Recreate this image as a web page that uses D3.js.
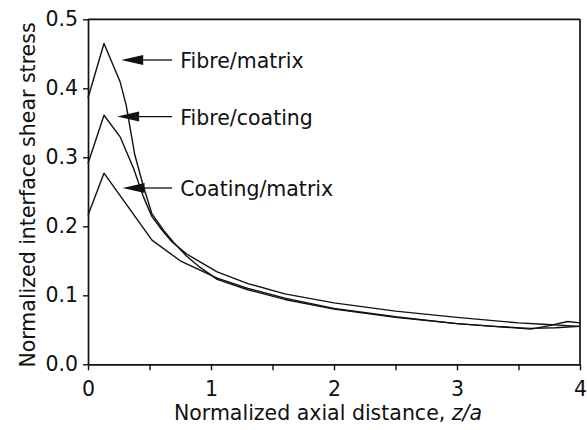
<!DOCTYPE html>
<html>
<head>
<meta charset="utf-8">
<script src="https://cdn.jsdelivr.net/npm/d3@7"></script>
<style>
  html, body { margin: 0; padding: 0; background: #fff; }
  svg { display: block; font-family: "DejaVu Sans", sans-serif; }
</style>
</head>
<body>
<svg id="chart" width="587" height="430"></svg>
<script>
// Normalized interface shear stress along the fibre, three interfaces
const seriesNames = ["Fibre/matrix", "Fibre/coating", "Coating/matrix"];

const zFibreMatrix = [0, 0.13, 0.26, 0.31, 0.38, 0.45, 0.52, 0.62, 0.70, 0.80, 0.90, 1.05, 1.3, 1.6, 2.0, 2.5, 3.0, 3.3, 3.6, 3.8, 3.9, 4.0];
const vFibreMatrix = [0.386, 0.465, 0.410, 0.376, 0.304, 0.258, 0.218, 0.193, 0.176, 0.157, 0.142, 0.123, 0.108, 0.094, 0.080, 0.068, 0.059, 0.055, 0.052, 0.053, 0.054, 0.055];

const zFibreCoating = [0, 0.13, 0.26, 0.37, 0.45, 0.52, 0.60, 0.68, 0.80, 1.05, 1.3, 1.6, 2.0, 2.5, 3.0, 3.5, 3.7, 3.9, 4.0];
const vFibreCoating = [0.291, 0.361, 0.330, 0.284, 0.243, 0.214, 0.195, 0.178, 0.160, 0.134, 0.117, 0.102, 0.089, 0.077, 0.068, 0.060, 0.058, 0.056, 0.055];

const zCoatingMatrix = [0, 0.13, 0.52, 0.75, 1.05, 1.3, 1.6, 2.0, 2.5, 3.0, 3.3, 3.6, 3.75, 3.9, 4.0];
const vCoatingMatrix = [0.216, 0.277, 0.180, 0.150, 0.125, 0.110, 0.096, 0.081, 0.069, 0.059, 0.055, 0.051, 0.056, 0.062, 0.060];

const xTickValues = [0, 0.5, 1, 1.5, 2, 2.5, 3, 3.5, 4];
const xTickLabels = ["0", "", "1", "", "2", "", "3", "", "4"];
const yTickValues = [0, 0.1, 0.2, 0.3, 0.4, 0.5];
const yTickLabels = ["0.0", "0.1", "0.2", "0.3", "0.4", "0.5"];

const series = [
  { name: seriesNames[0], z: zFibreMatrix, v: vFibreMatrix },
  { name: seriesNames[1], z: zFibreCoating, v: vFibreCoating },
  { name: seriesNames[2], z: zCoatingMatrix, v: vCoatingMatrix }
];

const svg = d3.select("#chart");
const FONT = "20.5px";

const x = d3.scaleLinear().domain([0, 4]).range([88, 580]);
const y = d3.scaleLinear().domain([0, 0.5]).range([364.3, 19.3]);

// curves
const line = d3.line()
  .x(d => x(d[0]))
  .y(d => y(d[1]))
  .curve(d3.curveLinear);

svg.append("g")
  .selectAll("path")
  .data(series)
  .join("path")
  .attr("d", s => line(s.z.map((z, i) => [z, s.v[i]])))
  .attr("fill", "none")
  .attr("stroke", "#111")
  .attr("stroke-width", 1.4)
  .attr("stroke-linejoin", "round");

// axes
const xAxis = svg.append("g")
  .attr("transform", `translate(0,${y(0)})`)
  .call(d3.axisBottom(x)
    .tickValues(xTickValues)
    .tickFormat((d, i) => xTickLabels[i])
    .tickSize(6)
    .tickPadding(11)
    .tickSizeOuter(0));

const yAxis = svg.append("g")
  .attr("transform", `translate(${x(0)},0)`)
  .call(d3.axisLeft(y)
    .tickValues(yTickValues)
    .tickFormat((d, i) => yTickLabels[i])
    .tickSize(5)
    .tickPadding(5)
    .tickSizeOuter(0));

[xAxis, yAxis].forEach(g => {
  g.select(".domain").attr("stroke", "#111").attr("stroke-width", 1.7);
  g.selectAll(".tick line").attr("stroke", "#111").attr("stroke-width", 1.4);
  g.selectAll(".tick text")
    .attr("fill", "#111")
    .style("font-size", FONT)
    .style("font-family", "'DejaVu Sans', sans-serif");
});

// frame on top and right
svg.append("line")
  .attr("x1", x(0)).attr("x2", x(4))
  .attr("y1", y(0.5)).attr("y2", y(0.5))
  .attr("stroke", "#111").attr("stroke-width", 1.7);
svg.append("line")
  .attr("x1", x(4)).attr("x2", x(4))
  .attr("y1", y(0.5)).attr("y2", y(0))
  .attr("stroke", "#111").attr("stroke-width", 1.7);

// labels with arrows pointing at each curve
const annotations = [
  { name: seriesNames[0], tipZ: 0.270, atV: 0.441 },
  { name: seriesNames[1], tipZ: 0.237, atV: 0.359 },
  { name: seriesNames[2], tipZ: 0.281, atV: 0.2555 }
];
const lineEndZ = 0.684;
const textZ = 0.75;

const ann = svg.append("g");
annotations.forEach(a => {
  const tx = x(a.tipZ), ty = y(a.atV);
  ann.append("path")
    .attr("d", `M${tx},${ty}L${tx + 22},${ty - 5}L${tx + 22},${ty + 5}Z`)
    .attr("fill", "#111");
  ann.append("line")
    .attr("x1", tx + 20).attr("x2", x(lineEndZ))
    .attr("y1", ty).attr("y2", ty)
    .attr("stroke", "#111").attr("stroke-width", 1.3);
  ann.append("text")
    .attr("x", x(textZ))
    .attr("y", ty + 8)
    .attr("fill", "#111")
    .style("font-size", FONT)
    .text(a.name);
});

// axis titles
svg.append("text")
  .attr("transform", "translate(35,195) rotate(-90)")
  .attr("text-anchor", "middle")
  .attr("fill", "#111")
  .style("font-size", FONT)
  .text("Normalized interface shear stress");

const xt = svg.append("text")
  .attr("x", 328)
  .attr("y", 420)
  .attr("text-anchor", "middle")
  .attr("fill", "#111")
  .style("font-size", FONT);
xt.append("tspan").text("Normalized axial distance, ");
xt.append("tspan").attr("font-style", "italic").text("z/a");
</script>
</body>
</html>
